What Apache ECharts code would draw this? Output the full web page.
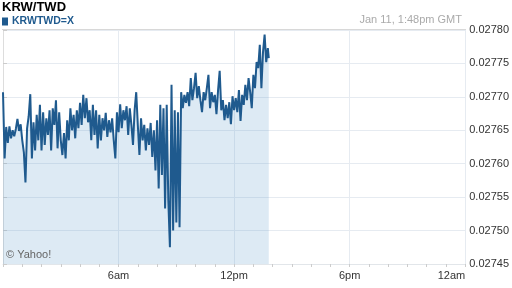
<!DOCTYPE html>
<html><head><meta charset="utf-8">
<script src="https://cdn.jsdelivr.net/npm/echarts@6/dist/echarts.min.js"></script>
<style>html,body{margin:0;padding:0;background:#fff}#c{width:512px;height:288px}</style>
</head><body><div id="c"></div>
<script>
const titleText = 'KRW/TWD';
const seriesName = 'KRWTWD=X';
const stampText = 'Jan 11, 1:48pm GMT';
const stepMinutes = 5;
const lastMinute = 828;
const xTicks = [0, 360, 720, 1080, 1440];
const xTickLabels = ['', '6am', '12pm', '6pm', '12am'];
const yTicks = [0.02745, 0.02750, 0.02755, 0.02760, 0.02765, 0.02770, 0.02775, 0.02780];
const rates = [
0.027707,0.027608,0.027655,0.027631,0.027656,0.027638,0.027650,0.027641,0.027652,0.027667,
0.027649,0.027659,0.027635,0.027617,0.027572,0.027653,0.027671,0.027704,0.027608,0.027662,
0.027620,0.027673,0.027635,0.027688,0.027620,0.027677,0.027628,0.027668,0.027643,0.027680,
0.027620,0.027683,0.027658,0.027695,0.027623,0.027677,0.027635,0.027613,0.027646,0.027608,
0.027665,0.027635,0.027683,0.027650,0.027673,0.027638,0.027680,0.027653,0.027691,0.027658,
0.027703,0.027668,0.027698,0.027662,0.027680,0.027635,0.027688,0.027643,0.027680,0.027623,
0.027673,0.027635,0.027668,0.027650,0.027676,0.027640,0.027665,0.027647,0.027668,0.027635,
0.027608,0.027677,0.027647,0.027689,0.027653,0.027680,0.027665,0.027686,0.027643,0.027683,
0.027658,0.027628,0.027680,0.027707,0.027658,0.027613,0.027668,0.027635,0.027658,0.027620,
0.027653,0.027628,0.027661,0.027610,0.027650,0.027590,0.027665,0.027563,0.027688,0.027583,
0.027683,0.027533,0.027688,0.027545,0.027475,0.027718,0.027500,0.027680,0.027512,0.027677,
0.027505,0.027707,0.027683,0.027703,0.027691,0.027707,0.027686,0.027728,0.027695,0.027713,
0.027736,0.027698,0.027716,0.027695,0.027677,0.027707,0.027695,0.027713,0.027733,0.027683,
0.027707,0.027692,0.027703,0.027674,0.027710,0.027739,0.027680,0.027695,0.027665,0.027688,
0.027668,0.027692,0.027659,0.027701,0.027680,0.027698,0.027677,0.027710,0.027664,0.027703,
0.027688,0.027718,0.027695,0.027728,0.027707,0.027683,0.027733,0.027713,0.027752,0.027743,
0.027778,0.027713,0.027767,0.027793,0.027752,0.027773,0.027758
];
const minutes = rates.map((_, i) => (i === rates.length - 1 ? lastMinute : i * stepMinutes));
const seriesData = rates.map((v, i) => [minutes[i], v]);

const FONT = '"Liberation Sans", Arial, sans-serif';
const chart = echarts.init(document.getElementById('c'), null, {renderer: 'canvas'});
chart.setOption({
  animation: false,
  textStyle: {fontFamily: FONT},
  title: [
    {text: titleText, left: 2, top: 1, padding: 0,
     textStyle: {fontFamily: FONT, fontSize: 13, fontWeight: 'bold', color: '#000'}},
    {text: stampText, right: 50, top: 14, padding: 0,
     textStyle: {fontFamily: FONT, fontSize: 11, fontWeight: 'normal', color: '#aaaaaa'}}
  ],
  legend: {
    left: 2, top: 16, padding: 0, itemGap: 0,
    icon: 'rect', itemWidth: 6, itemHeight: 8,
    textStyle: {fontFamily: FONT, fontSize: 10.5, fontWeight: 'bold', color: '#1f5a8e', padding: [0, 0, 0, -1]},
    data: [seriesName]
  },
  grid: {left: 2, right: 46, top: 30, bottom: 24, containLabel: false},
  xAxis: {
    type: 'value', min: xTicks[0], max: xTicks[xTicks.length - 1], interval: 360,
    axisLine: {show: true, lineStyle: {color: '#e2e6ea'}},
    axisTick: {show: true, length: 3, lineStyle: {color: '#cccccc'}},
    minorTick: {show: true, splitNumber: 6, length: 3, lineStyle: {color: '#cccccc'}},
    axisLabel: {
      fontFamily: FONT, fontSize: 11, color: '#333', margin: 6,
      alignMaxLabel: 'right',
      formatter: v => { const k = xTicks.indexOf(v); return k >= 0 ? xTickLabels[k] : ''; }
    },
    splitLine: {show: true, lineStyle: {color: '#e6ebf1', width: 1}}
  },
  yAxis: {
    type: 'value', position: 'right',
    min: yTicks[0], max: yTicks[yTicks.length - 1], interval: 0.00005,
    axisLine: {show: true, lineStyle: {color: '#dddddd'}},
    axisTick: {show: true, length: 4, lineStyle: {color: '#cccccc'}},
    axisLabel: {fontFamily: FONT, fontSize: 11, color: '#333', margin: 4,
      formatter: v => v.toFixed(5)},
    splitLine: {show: true, lineStyle: {color: '#e6ebf1', width: 1}}
  },
  graphic: [
    {type: 'line', shape: {x1: 2, y1: 29.5, x2: 466, y2: 29.5}, style: {stroke: '#d8d8d8', lineWidth: 1}, z: 10},
    {type: 'text', left: 6, top: 249, style: {text: '\u00a9 Yahoo!', fill: '#666', font: '11px ' + FONT}, z: 10}
  ],
  series: [{
    name: seriesName, type: 'line', data: seriesData, showSymbol: false, symbol: 'none',
    itemStyle: {color: '#1f5a8e'},
    lineStyle: {color: '#1f5a8e', width: 2},
    areaStyle: {color: 'rgba(105,160,205,0.32)', origin: 'start'}
  }]
});
</script></body></html>
